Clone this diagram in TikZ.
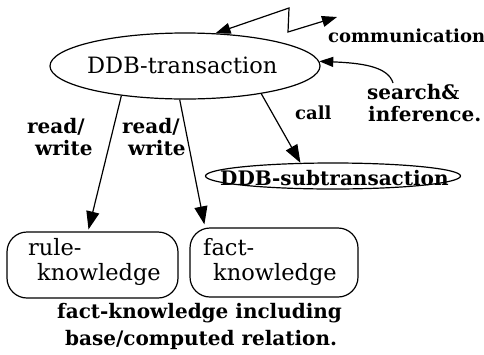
\documentclass[tikz,border=0pt]{standalone}
\usepackage{fontspec}
\setmainfont{DejaVu Serif}
\usetikzlibrary{arrows.meta,shapes.geometric,calc}

\tikzset{
  line/.style={line width=1.2pt, draw=black},
  arr/.style={line, -{Triangle[length=18pt,width=13pt]}},
  smallarr/.style={line, -{Triangle[length=14pt,width=10pt]}},
  biarr/.style={line, {Triangle[length=15pt,width=11pt]}-{Triangle[length=15pt,width=11pt]}},
  plain/.style={font=\fontsize{22.5}{25}\selectfont},
  heavy/.style={font=\fontsize{20}{22}\selectfont\bfseries},
  heavysm/.style={font=\fontsize{18}{20}\selectfont\bfseries},
  lbl/.style={inner sep=0pt, anchor=base west},
  kbox/.style={line, rounded corners=20pt, inner sep=0pt},
}

\begin{document}
\begin{tikzpicture}[x=1pt, y=-1pt]
  \useasboundingbox (0,0) rectangle (484,354);

  % transactions
  \node[line, ellipse, minimum width=270pt, minimum height=66pt, inner sep=0pt] (main) at (185,66) {};
  \node[lbl, plain] (maintxt) at (87,73) {DDB-transaction};

  \node[line, ellipse, minimum width=255pt, minimum height=26pt, inner sep=0pt] (sub) at (333,176) {};
  \node[lbl, heavy] (subtxt) at (220,185) {DDB-subtransaction};

  % knowledge stores
  \node[kbox, minimum width=171pt, minimum height=66pt] (rule) at (92.5,265) {};
  \node[lbl, plain] (rule1) at (28,255) {rule-};
  \node[lbl, plain] (rule2) at (37,280) {knowledge};

  \node[kbox, minimum width=168pt, minimum height=69pt] (fact) at (274,262.5) {};
  \node[lbl, plain] (fact1) at (203,255) {fact-};
  \node[lbl, plain] (fact2) at (213,280) {knowledge};

  % labels
  \node[lbl, heavysm] (comm) at (328,42) {communication};
  \node[lbl, heavy] (srch1) at (367,99) {search\&};
  \node[lbl, heavy] (srch2) at (368,121) {inference.};
  \node[lbl, heavysm] (call) at (295,119) {call};
  \node[lbl, heavy] (rw1a) at (27,133) {read/};
  \node[lbl, heavy] (rw1b) at (35,155) {write};
  \node[lbl, heavy] (rw2a) at (122,133) {read/};
  \node[lbl, heavy] (rw2b) at (128,155) {write};
  \node[lbl, heavy] (note1) at (57,318) {fact-knowledge including};
  \node[lbl, heavy] (note2) at (65,345) {base/computed relation.};

  % connectors
  \coordinate (zz1) at (289,8);
  \coordinate (zz2) at (288,32);
  \coordinate (remote) at (337,17);
  \draw[biarr] (main.47) -- (zz1) -- (zz2) -- (remote);

  \coordinate (srchstart) at (393,83);
  \draw[smallarr] (srchstart) .. controls (388,66) and (360,63) .. (main.2);

  \draw[arr] (main.-20) -- (sub.158);
  \draw[arr] (main.205) -- ($(rule.north)+(-4,-2)$);
  \draw[arr] (main.261) -- ($(fact.north west)+(15,-3)$);
\end{tikzpicture}
\end{document}
